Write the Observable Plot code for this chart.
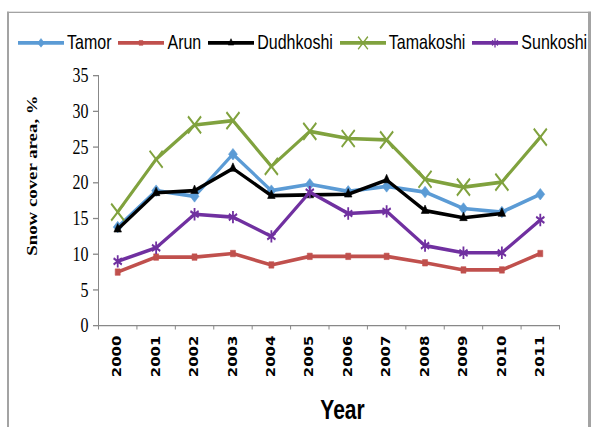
<!DOCTYPE html>
<html><head><meta charset="utf-8">
<script src="https://cdn.jsdelivr.net/npm/d3@7"></script>
<script src="https://cdn.jsdelivr.net/npm/@observablehq/plot@0.6"></script>
<style>
html,body{margin:0;padding:0;background:#fff;}
#outer{position:relative;width:592px;height:427px;overflow:hidden;background:#fff;}
#stage{position:absolute;left:0;top:0;width:592px;height:328.5px;transform:scaleY(1.3);transform-origin:0 0;}
#frame{position:absolute;left:7px;top:9.2px;width:584px;height:400px;box-sizing:border-box;border-left:2.5px solid #a3a3a3;border-right:3px solid #a3a3a3;border-top:1.8px solid #a3a3a3;}
#legend{position:absolute;left:18px;top:24px;height:18px;display:flex;align-items:center;white-space:nowrap;font-family:"Liberation Sans",Arial,sans-serif;font-size:16px;color:#000;}
.item{display:flex;align-items:center;margin-right:7px;}
.item svg{margin-right:3px;display:block;}
#chart{position:absolute;left:0;top:45px;}
#chart svg{overflow:visible;background:transparent;}
</style></head><body>
<div id="outer"><div id="stage"><div id="frame"></div><div id="legend"></div><div id="chart"></div></div></div>
<script>
const years = [2000, 2001, 2002, 2003, 2004, 2005, 2006, 2007, 2008, 2009, 2010, 2011];
const tamor = [13.8, 18.9, 18.1, 24.0, 18.9, 19.8, 18.8, 19.5, 18.7, 16.4, 15.9, 18.4];
const arun = [7.5, 9.6, 9.6, 10.1, 8.5, 9.7, 9.7, 9.7, 8.8, 7.8, 7.8, 10.1];
const dudhkoshi = [13.5, 18.6, 18.9, 22.0, 18.2, 18.3, 18.4, 20.4, 16.1, 15.1, 15.7];
const tamakoshi = [15.9, 23.3, 28.1, 28.7, 22.3, 27.2, 26.2, 26.0, 20.5, 19.4, 20.1, 26.4];
const sunkoshi = [9.0, 10.9, 15.6, 15.2, 12.5, 18.7, 15.7, 16.0, 11.2, 10.2, 10.2, 14.8];
const seriesNames = ["Tamor", "Arun", "Dudhkoshi", "Tamakoshi", "Sunkoshi"];
const seriesValues = [tamor, arun, dudhkoshi, tamakoshi, sunkoshi];
const seriesColors = ["#5b9bd5", "#c0504d", "#000000", "#80a23e", "#7030a0"];
const seriesSymbols = ["diamond2", "square", "triangle2", "times", "asterisk"];
const yTicks = [0, 5, 10, 15, 20, 25, 30, 35];
const yTitle = "Snow cover area, %";
const xTitle = "Year";

const symbolFns = {diamond2: d3.symbolDiamond2, square: d3.symbolSquare, triangle2: d3.symbolTriangle2, times: d3.symbolTimes, asterisk: d3.symbolAsterisk};
const filled = s => s === "diamond2" || s === "square" || s === "triangle2";
const symR = {diamond2: 4, square: 2.8, triangle2: 3.6, times: 6, asterisk: 4.5};

// Legend
const legend = document.getElementById("legend");
seriesNames.forEach((name, i) => {
  const item = document.createElement("div");
  item.className = "item";
  const sym = seriesSymbols[i];
  const r = symR[sym] * 0.75;
  const path = d3.symbol(symbolFns[sym], Math.PI * r * r)();
  const col = seriesColors[i];
  item.innerHTML = `<svg width="46" height="18" viewBox="0 0 46 18"><line x1="0" x2="46" y1="9" y2="9" stroke="${col}" stroke-width="2.8"/><path transform="translate(23,9)" d="${path}" fill="${filled(sym) ? col : "none"}" stroke="${col}" stroke-width="${filled(sym) ? 0.5 : 1.3}"/></svg><span>${name}</span>`;
  legend.appendChild(item);
});

const rows = [];
seriesValues.forEach((vals, i) => vals.forEach((v, j) => rows.push({series: seriesNames[i], year: years[j], value: v})));
const bounds = d3.range(years.length + 1).map(k => years[0] - 0.5 + k);
const x0 = years[0] - 0.5;

const seriesMarks = [];
seriesNames.forEach((name, i) => {
  const data = rows.filter(d => d.series === name);
  const col = seriesColors[i];
  const sym = seriesSymbols[i];
  seriesMarks.push(Plot.line(data, {x: "year", y: "value", stroke: col, strokeWidth: 2.8, strokeLinejoin: "round"}));
  seriesMarks.push(Plot.dot(data, filled(sym)
    ? {x: "year", y: "value", symbol: () => sym, r: symR[sym], fill: col, stroke: col, strokeWidth: 0.5}
    : {x: "year", y: "value", symbol: () => sym, r: symR[sym], fill: "none", stroke: col, strokeWidth: 1.8}));
});

const chart = Plot.plot({
  width: 592,
  height: 283,
  marginTop: 12.7,
  marginBottom: 78,
  marginLeft: 98,
  marginRight: 33,
  x: {domain: [x0, years[years.length - 1] + 0.5], axis: null},
  y: {domain: [0, 35], axis: null},
  symbol: {type: "identity"},
  marks: [
    Plot.axisY({ticks: yTicks, tickSize: 5, tickFormat: () => "", stroke: "#888", label: null}),
    Plot.text(yTicks, {x: x0, y: d => d, text: d => String(d), dx: -10, textAnchor: "end", fontFamily: "Liberation Serif", fontSize: 16, fill: "#000"}),
    Plot.axisX({ticks: bounds, tickSize: 3.5, tickFormat: () => "", stroke: "#888", label: null}),
    Plot.text(years, {x: d => d, y: 0, text: d => String(d), dy: 7.7, rotate: -90, textAnchor: "end", lineAnchor: "middle", fontFamily: "DejaVu Sans", fontWeight: "bold", fontSize: 11.5, fill: "#000"}),
    Plot.ruleX([x0], {stroke: "#888"}),
    Plot.ruleY([0], {stroke: "#888"}),
    ...seriesMarks,
    Plot.text([yTitle], {text: d => d, frameAnchor: "left", dx: -66, dy: -19.3, rotate: -90, textAnchor: "middle", lineAnchor: "middle", fontFamily: "Liberation Serif", fontWeight: "bold", fontSize: 14.5, fill: "#000"}),
    Plot.text([xTitle], {text: d => d, frameAnchor: "bottom", dx: 13.5, dy: 65.4, textAnchor: "middle", lineAnchor: "middle", fontFamily: "Liberation Sans", fontWeight: "bold", fontSize: 21, fill: "#000"})
  ]
});
document.getElementById("chart").appendChild(chart);
</script>
</body></html>
